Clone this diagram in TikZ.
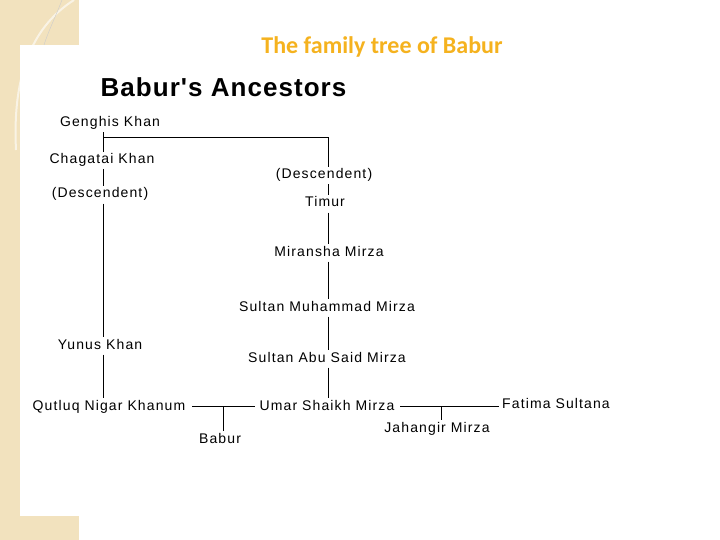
\documentclass[tikz,border=0pt]{standalone}
\usepackage{fontspec}
\setmainfont{Liberation Sans}
\newfontfamily\treefont[LetterSpace=8]{Liberation Sans}
\newfontfamily\headfont[LetterSpace=4]{Liberation Sans}
\newfontfamily\titlefont{Carlito}
\definecolor{beige}{HTML}{F2E2BE}
\definecolor{titleorange}{HTML}{F5B21E}
\begin{document}
\begin{tikzpicture}[x=1pt,y=-1pt,
  person/.style={font=\treefont\fontsize{14}{16}\selectfont, anchor=base,
    inner xsep=3pt, inner ysep=1.5pt, text height=10pt, text depth=4pt},
  link/.style={draw=black, line width=1pt}]
\useasboundingbox (0,0) rectangle (720,540);
% background
\fill[white] (0,0) rectangle (720,540);
\fill[beige] (0,0) rectangle (79,540);
\draw[white, line width=2pt, opacity=0.6] (74,0) .. controls (35,25) and (12,70) .. (16,150);
\draw[black!20, line width=0.4pt] (62,0) .. controls (55,18) and (48,32) .. (44,45);
\fill[white] (20,45) rectangle (720,516);
% titles
\node[font=\titlefont\bfseries\fontsize{24}{28}\selectfont, text=titleorange, anchor=base] (title) at (382,54) {The family tree of Babur};
\node[font=\headfont\bfseries\fontsize{26}{30}\selectfont, anchor=base] (head) at (223.5,96.5) {Babur's Ancestors};
% people
\node[person] (gk)  at (110,126.5) {Genghis Khan};
\node[person] (ck)  at (102,163.3) {Chagatai Khan};
\node[person] (dl)  at (100,198)   {(Descendent)};
\node[person] (yk)  at (100,349)   {Yunus Khan};
\node[person] (qn)  at (109,410)   {Qutluq Nigar Khanum};
\node[person] (dr)  at (324,178.5) {(Descendent)};
\node[person] (ti)  at (325,207)   {Timur};
\node[person] (mm)  at (329,256)   {Miransha Mirza};
\node[person] (smm) at (327,311)   {Sultan Muhammad Mirza};
\node[person] (sas) at (327,362)   {Sultan Abu Said Mirza};
\node[person] (usm) at (327,410)   {Umar Shaikh Mirza};
\node[person] (bab) at (220,443)   {Babur};
\node[person] (jm)  at (437,432)   {Jahangir Mirza};
\node[person] (fs)  at (556,408)   {Fatima Sultana};
% columns and junctions
\coordinate (colL) at (103.5,0);
\coordinate (colR) at (328,0);
\coordinate (j1) at (103.5,137.5);
\coordinate (j2) at (192,406);
\coordinate (j3) at (255,406);
\coordinate (d1) at (223,406);
\coordinate (j4) at (400,406);
\coordinate (d2) at (441,406);
% left line
\draw[link] (gk.south -| colL) -- (ck.north -| colL);
\draw[link] (ck.south -| colL) -- (dl.north -| colL);
\draw[link] (dl.south -| colL) -- (yk.north -| colL);
\draw[link] (yk.south -| colL) -- (qn.north -| colL);
% branch to Timur line
\draw[link] (j1) -| (dr.north -| colR);
\draw[link] (dr.south -| colR) -- (ti.north -| colR);
\draw[link] (ti.south -| colR) -- (mm.north -| colR);
\draw[link] (mm.south -| colR) -- (smm.north -| colR);
\draw[link] (smm.south -| colR) -- (sas.north -| colR);
\draw[link] (sas.south -| colR) -- (usm.north -| colR);
% marriages and children
\draw[link] (j2) -- (j3);
\draw[link] (d1) -- (d1 |- bab.north);
\draw[link] (j4) -- (j4 -| fs.west);
\draw[link] (d2) -- (d2 |- jm.north);
\end{tikzpicture}
\end{document}
